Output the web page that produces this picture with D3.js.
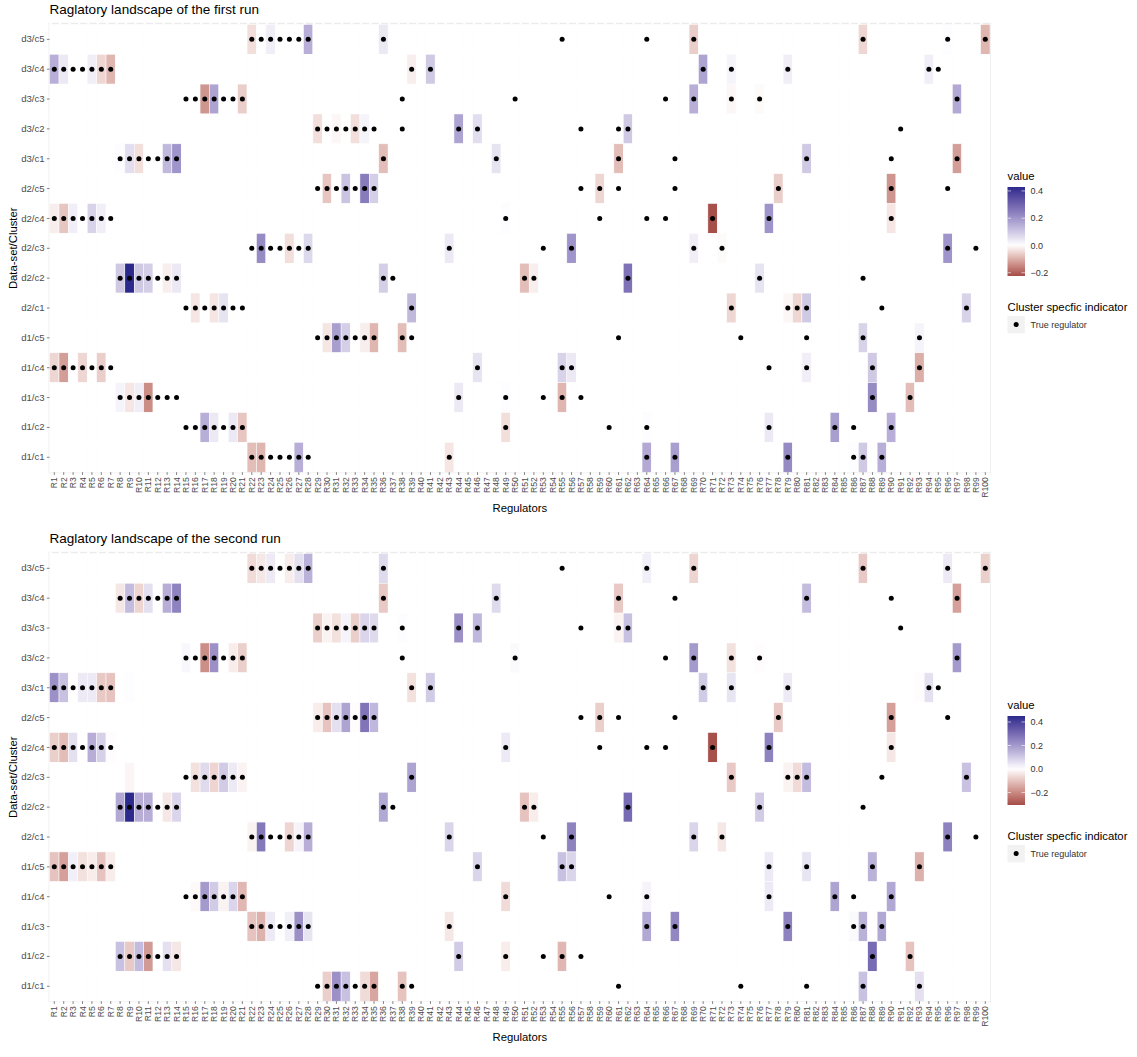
<!DOCTYPE html>
<html>
<head>
<meta charset="utf-8">
<script src="https://cdn.jsdelivr.net/npm/d3@7"></script>
<style>
  body { margin: 0; background: #fff; }
  svg { display: block; font-family: "Liberation Sans", Arial, sans-serif; }
</style>
</head>
<body>
<svg id="chart" width="1137" height="1057"></svg>
<script>
// rows top -> bottom
const clusters = ["d3/c5", "d3/c4", "d3/c3", "d3/c2", "d3/c1", "d2/c5", "d2/c4", "d2/c3", "d2/c2", "d2/c1", "d1/c5", "d1/c4", "d1/c3", "d1/c2", "d1/c1"];
const regulators = d3.range(1, 101).map(i => "R" + i);
const legendTicks = [0.4, 0.2, 0.0, -0.2];

// [regulator index, value, true regulator dot]
// first run
const r1_d3c5 = [[22,-0.04,1],[23,0,1],[24,0.03,1],[25,0,1],[26,0,1],[27,0,1],[28,0.15,1],[36,0.04,1],[55,0,1],[64,0,1],[69,-0.06,1],[87,-0.05,1],[96,0.005,1],[100,-0.09,1]];
const r1_d3c4 = [[1,0.15,1],[2,0.04,1],[3,0,1],[4,0,1],[5,0.03,1],[6,-0.05,1],[7,-0.09,1],[39,-0.02,1],[41,0.1,1],[70,0.17,1],[73,0.02,1],[79,0.03,1],[94,0.03,1],[95,0,1]];
const r1_d3c3 = [[15,0,1],[16,0,1],[17,-0.13,1],[18,0.17,1],[19,0,1],[20,0,1],[21,-0.06,1],[38,0,1],[50,0,1],[66,0,1],[69,0.15,1],[73,-0.01,1],[76,-0.005,1],[97,0.16,1]];
const r1_d3c2 = [[29,-0.04,1],[30,0,1],[31,-0.01,1],[32,0,1],[33,-0.04,1],[34,0.02,1],[35,0,1],[38,0,1],[44,0.17,1],[46,0.06,1],[57,0,1],[61,0,1],[62,0.1,1],[91,0,1]];
const r1_d3c1 = [[8,0.005,1],[9,0.06,1],[10,-0.04,1],[11,0,1],[12,0,1],[13,0.13,1],[14,0.2,1],[36,-0.08,1],[48,0.05,1],[61,-0.08,1],[67,0,1],[81,0.1,1],[90,0,1],[97,-0.12,1]];
const r1_d2c5 = [[29,0,1],[30,-0.07,1],[31,0,1],[32,0.11,1],[33,0,1],[34,0.25,1],[35,0.09,1],[57,0,1],[59,-0.05,1],[61,0,1],[67,0,1],[78,-0.06,1],[90,-0.13,1],[96,0,1]];
const r1_d2c4 = [[1,-0.02,1],[2,-0.07,1],[3,0.03,1],[4,0,1],[5,0.08,1],[6,0.03,1],[7,0,1],[49,0.005,1],[59,0,1],[64,0,1],[66,0,1],[71,-0.22,1],[77,0.2,1],[90,-0.03,1]];
const r1_d2c3 = [[22,0,1],[23,0.22,1],[24,0,1],[25,0,1],[26,-0.04,1],[27,0,1],[28,0.07,1],[43,0.04,1],[53,0,1],[56,0.2,1],[69,0.03,1],[72,-0.005,1],[96,0.2,1],[99,0,1]];
const r1_d2c2 = [[8,0.1,1],[9,0.43,1],[10,0.1,1],[11,0.09,1],[12,0,1],[13,-0.02,1],[14,0.04,1],[36,0.09,1],[37,0,1],[51,-0.08,1],[52,-0.02,1],[62,0.27,1],[76,0.05,1],[87,0,1]];
const r1_d2c1 = [[15,0,1],[16,-0.03,1],[17,0,1],[18,-0.03,1],[19,0.05,1],[20,0,1],[21,0,1],[39,0.13,1],[73,-0.05,1],[79,-0.01,1],[80,-0.05,1],[81,0.1,1],[89,0,1],[98,0.08,1]];
const r1_d1c5 = [[29,0,1],[30,-0.03,1],[31,0.18,1],[32,0.09,1],[33,0,1],[34,-0.02,1],[35,-0.09,1],[38,-0.08,1],[39,0,1],[61,0,1],[74,0,1],[81,0,1],[87,0.08,1],[93,0.02,1]];
const r1_d1c4 = [[1,-0.05,1],[2,-0.12,1],[3,0,1],[4,-0.05,1],[5,0,1],[6,-0.06,1],[7,0,1],[46,0.05,1],[55,0.08,1],[56,0.04,1],[77,0,1],[81,0.03,1],[88,0.1,1],[93,-0.1,1]];
const r1_d1c3 = [[8,0.02,1],[9,-0.03,1],[10,0.03,1],[11,-0.14,1],[12,0,1],[13,0,1],[14,0,1],[44,0.04,1],[49,0.005,1],[53,0,1],[55,-0.09,1],[57,0,1],[88,0.22,1],[92,-0.08,1]];
const r1_d1c2 = [[15,0,1],[16,0,1],[17,0.15,1],[18,0.04,1],[19,0,1],[20,0.04,1],[21,-0.07,1],[49,-0.04,1],[60,0,1],[64,0.005,1],[77,0.04,1],[84,0.18,1],[86,0,1],[90,0.15,1]];
const r1_d1c1 = [[22,-0.08,1],[23,-0.09,1],[24,0,1],[25,0,1],[26,0,1],[27,0.15,1],[28,0,1],[43,-0.03,1],[64,0.16,1],[67,0.18,1],[79,0.22,1],[86,0.005,1],[87,0.1,1],[89,0.15,1]];

// second run
const r2_d3c5 = [[22,-0.06,1],[23,-0.04,1],[24,0.04,1],[25,0,1],[26,-0.03,1],[27,0.06,1],[28,0.15,1],[36,0.07,1],[55,0,1],[64,0.03,1],[69,-0.07,1],[87,-0.09,1],[96,0.04,1],[100,-0.08,1]];
const r2_d3c4 = [[8,-0.04,1],[9,0.13,1],[10,-0.07,1],[11,0.06,1],[12,0,1],[13,0.16,1],[14,0.25,1],[36,-0.09,1],[48,0.07,1],[61,-0.09,1],[67,0,1],[81,0.13,1],[90,0,1],[97,-0.16,1]];
const r2_d3c3 = [[29,-0.08,1],[30,-0.02,1],[31,-0.05,1],[32,0.02,1],[33,-0.08,1],[34,0.08,1],[35,0.07,1],[38,0.005,1],[44,0.22,1],[46,0.14,1],[57,0,1],[61,-0.02,1],[62,0.12,1],[91,0,1]];
const r2_d3c2 = [[15,0.015,1],[16,0,1],[17,-0.19,1],[18,0.22,1],[19,0,1],[20,-0.03,1],[21,-0.08,1],[38,0,1],[50,0.01,1],[66,0,1],[69,0.2,1],[73,-0.05,1],[76,-0.005,1],[97,0.2,1]];
const r2_d3c1 = [[1,0.22,1],[2,0.12,1],[3,0,1],[4,0.04,1],[5,0.04,1],[6,-0.09,1],[7,-0.1,1],[9,0.005,0],[39,-0.05,1],[41,0.1,1],[70,0.1,1],[73,0.05,1],[79,0.04,1],[93,-0.005,0],[94,0.06,1],[95,0,1]];
const r2_d2c5 = [[29,-0.03,1],[30,-0.1,1],[31,0.06,1],[32,0.18,1],[33,-0.005,1],[34,0.28,1],[35,0.14,1],[57,0,1],[59,-0.08,1],[61,0,1],[67,0,1],[78,-0.09,1],[90,-0.16,1],[96,0,1]];
const r2_d2c4 = [[1,-0.08,1],[2,-0.11,1],[3,0.06,1],[4,0,1],[5,0.16,1],[6,0.09,1],[7,-0.005,1],[49,0.04,1],[59,0,1],[64,0,1],[66,0,1],[71,-0.3,1],[77,0.25,1],[90,-0.04,1]];
const r2_d2c3 = [[9,-0.015,0],[15,0,1],[16,-0.05,1],[17,0.07,1],[18,-0.07,1],[19,0.1,1],[20,0.04,1],[21,-0.02,1],[39,0.18,1],[73,-0.09,1],[79,-0.02,1],[80,-0.06,1],[81,0.13,1],[89,0,1],[98,0.12,1]];
const r2_d2c2 = [[8,0.17,1],[9,0.45,1],[10,0.16,1],[11,0.16,1],[12,0,1],[13,-0.04,1],[14,0.08,1],[36,0.17,1],[37,0,1],[51,-0.1,1],[52,-0.03,1],[62,0.3,1],[76,0.1,1],[87,0,1]];
const r2_d2c1 = [[22,-0.02,1],[23,0.27,1],[24,0,1],[25,0,1],[26,-0.07,1],[27,0.02,1],[28,0.16,1],[43,0.08,1],[53,0,1],[56,0.25,1],[69,0.08,1],[72,-0.04,1],[96,0.25,1],[99,0,1]];
const r2_d1c5 = [[1,-0.1,1],[2,-0.16,1],[3,0.03,1],[4,-0.05,1],[5,-0.03,1],[6,-0.1,1],[7,-0.03,1],[46,0.08,1],[55,0.12,1],[56,0.08,1],[77,0.04,1],[81,0.05,1],[88,0.15,1],[93,-0.13,1]];
const r2_d1c4 = [[15,0,1],[16,-0.01,1],[17,0.2,1],[18,0.1,1],[19,-0.02,1],[20,0.08,1],[21,-0.12,1],[49,-0.06,1],[60,0,1],[64,0.02,1],[77,0.04,1],[84,0.18,1],[86,0,1],[90,0.17,1]];
const r2_d1c3 = [[22,-0.1,1],[23,-0.13,1],[24,0.04,1],[25,0,1],[26,0.03,1],[27,0.22,1],[28,0.05,1],[43,-0.04,1],[64,0.17,1],[67,0.24,1],[79,0.25,1],[86,0.01,1],[87,0.15,1],[89,0.17,1]];
const r2_d1c2 = [[8,0.12,1],[9,-0.09,1],[10,0.13,1],[11,-0.17,1],[12,0,1],[13,0.06,1],[14,-0.04,1],[44,0.1,1],[49,-0.03,1],[53,0,1],[55,-0.12,1],[57,0,1],[88,0.3,1],[92,-0.1,1]];
const r2_d1c1 = [[29,0,1],[30,-0.08,1],[31,0.22,1],[32,0.12,1],[33,0,1],[34,-0.06,1],[35,-0.15,1],[38,-0.1,1],[39,0,1],[61,0,1],[74,0,1],[81,0,1],[87,0.12,1],[93,0.06,1]];

const run1Rows = [r1_d3c5, r1_d3c4, r1_d3c3, r1_d3c2, r1_d3c1, r1_d2c5, r1_d2c4, r1_d2c3, r1_d2c2, r1_d2c1, r1_d1c5, r1_d1c4, r1_d1c3, r1_d1c2, r1_d1c1];
const run2Rows = [r2_d3c5, r2_d3c4, r2_d3c3, r2_d3c2, r2_d3c1, r2_d2c5, r2_d2c4, r2_d2c3, r2_d2c2, r2_d2c1, r2_d1c5, r2_d1c4, r2_d1c3, r2_d1c2, r2_d1c1];
const run1Range = [-0.224, 0.429];
const run2Range = [-0.306, 0.451];

const panels = [
  { title: "Raglatory landscape of the first run", rows: run1Rows, range: run1Range, dy: 0 },
  { title: "Raglatory landscape of the second run", rows: run2Rows, range: run2Range, dy: 529 }
];

const lowCol = "#A54C47", highCol = "#2B2A8C";
const svg = d3.select("#chart");
const px0 = 49.6, px1 = 990, py0 = 24.4, py1 = 472.2;

panels.forEach((p, pi) => {
  const g = svg.append("g").attr("transform", `translate(0,${p.dy})`);
  const x = d3.scaleBand().domain(regulators).range([px0, px1]);
  const y = d3.scaleBand().domain(clusters).range([py0, py1]);
  const color = d3.scaleLinear().domain([p.range[0], 0, p.range[1]])
    .range([lowCol, "#FFFFFF", highCol]).interpolate(d3.interpolateLab).clamp(true);

  const cells = [];
  const lookup = new Map();
  p.rows.forEach((row, ri) => row.forEach(([c, v, dot]) => {
    lookup.set(clusters[ri] + "|" + c, { v, dot });
  }));
  clusters.forEach(cl => regulators.forEach((r, ci) => {
    const d = lookup.get(cl + "|" + (ci + 1));
    cells.push({ cl, r, v: d ? d.v : 0, dot: d ? d.dot : 0 });
  }));

  // panel background
  g.append("rect").attr("x", px0 - 1).attr("y", py0 - 1.6)
    .attr("width", px1 - px0 + 2).attr("height", py1 - py0 + 2.6).attr("fill", "#EBEBEB");

  g.append("g").selectAll("rect").data(cells).join("rect")
    .attr("x", d => x(d.r)).attr("y", d => y(d.cl))
    .attr("width", x.bandwidth()).attr("height", y.bandwidth())
    .attr("fill", d => color(d.v))
    .attr("stroke", "#fff").attr("stroke-width", 0.5);

  // dashed top edge
  g.append("line").attr("x1", px0).attr("x2", px1).attr("y1", py0 - 0.8).attr("y2", py0 - 0.8)
    .attr("stroke", "#fff").attr("stroke-width", 1.6).attr("stroke-dasharray", "2.4,7");

  g.append("g").selectAll("circle").data(cells.filter(d => d.dot)).join("circle")
    .attr("cx", d => x(d.r) + x.bandwidth() / 2).attr("cy", d => y(d.cl) + y.bandwidth() / 2)
    .attr("r", 2.5).attr("fill", "#000");

  // axes
  const ya = g.append("g").attr("transform", `translate(${px0},0)`)
    .call(d3.axisLeft(y).tickSize(2.75).tickPadding(2.2));
  ya.select(".domain").remove();
  ya.selectAll("line").attr("stroke", "#333").attr("stroke-width", 0.6);
  ya.selectAll("text").attr("fill", "#4D4D4D").style("font-size", "9.6px");

  const xa = g.append("g").attr("transform", `translate(0,${py1})`)
    .call(d3.axisBottom(x).tickSize(2.75));
  xa.select(".domain").remove();
  xa.selectAll("line").attr("stroke", "#333").attr("stroke-width", 0.6);
  xa.selectAll("text").attr("fill", "#4D4D4D").style("font-size", "8.6px")
    .attr("transform", "rotate(-90)").attr("text-anchor", "end")
    .attr("x", -5).attr("y", 0).attr("dy", "0.35em");

  g.append("text").attr("x", px0).attr("y", 13.5).text(p.title)
    .style("font-size", "13.5px").attr("fill", "#000");
  g.append("text").attr("x", (px0 + px1) / 2).attr("y", 512).attr("text-anchor", "middle")
    .text("Regulators").style("font-size", "11.3px");
  g.append("text").attr("transform", `translate(13.5,${(py0 + py1) / 2}) rotate(-90)`)
    .attr("text-anchor", "middle").attr("dy", "0.35em")
    .text("Data-set/Cluster").style("font-size", "11.3px");

  // legend: colour bar
  const lx = 1007.5, lw = 17.5, barTop = 187, barBot = 276;
  const lg = g.append("g");
  lg.append("text").attr("x", lx).attr("y", 180).text("value").style("font-size", "11.3px");
  const gid = "grad" + pi;
  const grad = svg.append("defs").append("linearGradient").attr("id", gid)
    .attr("x1", 0).attr("x2", 0).attr("y1", 1).attr("y2", 0);
  d3.range(0, 1.0001, 0.05).forEach(t => {
    const v = p.range[0] + t * (p.range[1] - p.range[0]);
    grad.append("stop").attr("offset", t).attr("stop-color", color(v));
  });
  lg.append("rect").attr("x", lx).attr("y", barTop).attr("width", lw).attr("height", barBot - barTop)
    .attr("fill", `url(#${gid})`);
  const ls = d3.scaleLinear().domain(p.range).range([barBot, barTop]);
  legendTicks.forEach(t => {
    lg.append("line").attr("x1", lx).attr("x2", lx + 3.5).attr("y1", ls(t)).attr("y2", ls(t))
      .attr("stroke", "#fff").attr("stroke-width", 0.6);
    lg.append("line").attr("x1", lx + lw - 3.5).attr("x2", lx + lw).attr("y1", ls(t)).attr("y2", ls(t))
      .attr("stroke", "#fff").attr("stroke-width", 0.6);
    lg.append("text").attr("x", lx + lw + 5.5).attr("y", ls(t)).attr("dy", "0.35em")
      .text(d3.format(".1f")(t)).style("font-size", "9px").attr("fill", "#333");
  });

  // legend: indicator
  lg.append("text").attr("x", lx).attr("y", 310.5).text("Cluster specfic indicator").style("font-size", "11.3px");
  lg.append("rect").attr("x", lx).attr("y", 316).attr("width", 17.3).attr("height", 17.3).attr("fill", "#F2F2F2");
  lg.append("circle").attr("cx", lx + 8.65).attr("cy", 324.6).attr("r", 2.5).attr("fill", "#000");
  lg.append("text").attr("x", lx + 23).attr("y", 324.6).attr("dy", "0.35em")
    .text("True regulator").style("font-size", "9px").attr("fill", "#333");
});
</script>
</body>
</html>
